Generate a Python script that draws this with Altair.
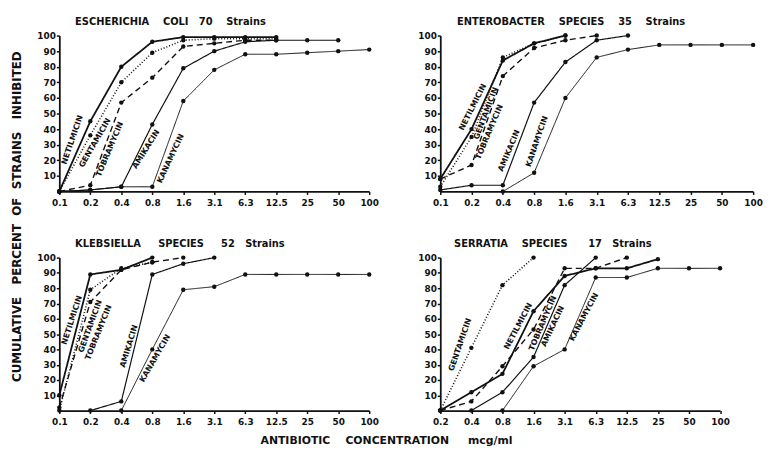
import json
import altair as alt
import pandas as pd

FONT = "DejaVu Sans"
INK = "#111111"
NB = "\u00a0"

DRUGS = ["NETILMICIN", "GENTAMICIN", "TOBRAMYCIN", "AMIKACIN", "KANAMYCIN"]
CONC_FULL = ["0.1", "0.2", "0.4", "0.8", "1.6", "3.1", "6.3", "12.5", "25", "50", "100"]
CONC_SERRATIA = ["0.2", "0.4", "0.8", "1.6", "3.1", "6.3", "12.5", "25", "50", "100"]

# Escherichia coli, 70 strains (cumulative % inhibited at each concentration)
ECOLI_NET = [0, 45, 80, 96, 99, 99, 99, 99, None, None, None]
ECOLI_GEN = [0, 36, 70, 89, 97, 98, 98, 98, None, None, None]
ECOLI_TOB = [0, 4, 57, 73, 93, 95, 97, 97, None, None, None]
ECOLI_AMI = [0, 1, 3, 43, 79, 90, 96, 97, 97, 97, None]
ECOLI_KAN = [0, 1, 3, 3, 58, 78, 88, 88, 89, 90, 91]

# Enterobacter species, 35 strains
ENTERO_NET = [8, 40, 84, 95, 100, None, None, None, None, None, None]
ENTERO_GEN = [3, 35, 86, 95, 100, None, None, None, None, None, None]
ENTERO_TOB = [8, 17, 74, 92, 97, 100, None, None, None, None, None]
ENTERO_AMI = [1, 4, 4, 57, 83, 97, 100, None, None, None, None]
ENTERO_KAN = [None, None, 0, 12, 60, 86, 91, 94, 94, 94, 94]

# Klebsiella species, 52 strains
KLEB_NET = [10, 89, 92, 100, None, None, None, None, None, None, None]
KLEB_GEN = [0, 79, 93, 97, None, None, None, None, None, None, None]
KLEB_TOB = [2, 71, 92, 97, 100, None, None, None, None, None, None]
KLEB_AMI = [None, 0, 6, 89, 96, 100, None, None, None, None, None]
KLEB_KAN = [None, None, 0, 40, 79, 81, 89, 89, 89, 89, 89]

# Serratia species, 17 strains (scale starts at 0.2)
SERR_NET = [0, 12, 24, 65, 88, 93, 93, 99, None, None]
SERR_GEN = [0, 41, 82, 100, None, None, None, None, None, None]
SERR_TOB = [0, 6, 29, 53, 93, 93, 100, None, None, None]
SERR_AMI = [None, 0, 12, 35, 82, 100, None, None, None, None]
SERR_KAN = [None, None, 0, 29, 40, 87, 87, 93, 93, 93]

# rotated drug labels: (text, x index, y value, rotation degrees counter-clockwise)
ECOLI_LABELS = [("NETILMICIN", 0.43, 33, 71), ("GENTAMICIN", 1.16, 31, 60),
                ("TOBRAMYCIN", 1.64, 27, 67), ("AMIKACIN", 2.81, 27, 58),
                ("KANAMYCIN", 3.6, 21, 65)]
ENTERO_LABELS = [("NETILMICIN", 1.05, 54, 63), ("GENTAMICIN", 1.47, 50, 69),
                 ("TOBRAMYCIN", 1.58, 38, 67), ("AMIKACIN", 2.21, 26, 67),
                 ("KANAMYCIN", 3.1, 32, 71)]
KLEB_LABELS = [("NETILMICIN", 0.42, 59, 72), ("GENTAMICIN", 1.01, 55, 70),
               ("TOBRAMYCIN", 1.28, 51, 68), ("AMIKACIN", 2.26, 42, 73),
               ("KANAMYCIN", 3.1, 34, 60)]
SERR_LABELS = [("GENTAMICIN", 0.65, 43, 71), ("NETILMICIN", 2.52, 55, 62),
               ("TOBRAMYCIN", 3.31, 57, 67), ("AMIKACIN", 3.63, 55, 65),
               ("KANAMYCIN", 4.63, 61, 62)]

DASHES = [[1, 0], [1, 2], [6, 4], [1, 0], [1, 0]]
WIDTHS = [1.8, 1.0, 1.7, 1.8, 1.8]


def words(parts, gaps):
    out = parts[0]
    for g, p in zip(gaps, parts[1:]):
        out += NB * g + p
    return out


def panel(title, conc, series, labels, width, height, dx, ytitle=None, xtitle=None):
    rows = []
    for drug, vals in zip(DRUGS, series):
        for i, v in enumerate(vals):
            if v is not None:
                rows.append({"idx": i, "value": v, "drug": drug})
    df = pd.DataFrame(rows)
    n = len(conc)
    label_expr = json.dumps(conc) + "[datum.value]"

    xaxis = dict(values=list(range(n)), tickCount=n + 2, labelExpr=label_expr, title=None,
                 tickSize=3, labelPadding=4, labelOverlap=False, labelFlush=False)
    if xtitle:
        xaxis.update(title=xtitle, titleX=-55, titleAlign="center", titlePadding=8,
                     titleFontSize=11)
    yaxis = dict(values=list(range(10, 101, 10)), tickCount=12, title=None, tickSize=3,
                 labelPadding=1, labelOverlap=False, labelFlush=False)
    if ytitle:
        yaxis.update(title=ytitle, titleY=183, titleAlign="center", titlePadding=14,
                     titleFontSize=12)

    x = alt.X("idx:Q", scale=alt.Scale(domain=[0, n - 1], nice=False), axis=alt.Axis(**xaxis))
    y = alt.Y("value:Q", scale=alt.Scale(domain=[0, 100], nice=False), axis=alt.Axis(**yaxis))

    base = alt.Chart(df)
    lines = base.mark_line(color=INK).encode(
        x=x, y=y, detail="drug:N",
        strokeDash=alt.StrokeDash("drug:N", scale=alt.Scale(domain=DRUGS, range=DASHES), legend=None),
        strokeWidth=alt.StrokeWidth("drug:N", scale=alt.Scale(domain=DRUGS, range=WIDTHS), legend=None),
    )
    points = base.mark_circle(color=INK, opacity=1, size=20).encode(x="idx:Q", y="value:Q")

    lab = pd.DataFrame([{"text": t, "idx": i, "value": v, "angle": 360 - a} for t, i, v, a in labels])
    text = alt.Chart(lab).mark_text(font=FONT, fontSize=8, fontWeight="bold", color=INK).encode(
        x="idx:Q", y="value:Q", text="text:N", angle=alt.Angle("angle:Q", scale=None)
    )
    return alt.layer(lines, points, text).properties(
        width=width, height=height,
        title=alt.TitleParams(title, anchor="start", frame="group", dx=dx, offset=5, font=FONT,
                              fontSize=10, fontWeight="bold", color=INK),
    )


p1 = panel(words(["ESCHERICHIA", "COLI", "70", "Strains"], [4, 3, 4]), CONC_FULL,
           [ECOLI_NET, ECOLI_GEN, ECOLI_TOB, ECOLI_AMI, ECOLI_KAN], ECOLI_LABELS, 314, 158, 16,
           ytitle=words(["CUMULATIVE", "PERCENT", "OF", "STRAINS", "INHIBITED"], [3, 2, 2, 3]))
p2 = panel(words(["ENTEROBACTER", "SPECIES", "35", "Strains"], [4, 4, 4]), CONC_FULL,
           [ENTERO_NET, ENTERO_GEN, ENTERO_TOB, ENTERO_AMI, ENTERO_KAN], ENTERO_LABELS, 317, 158, 17)
p3 = panel(words(["KLEBSIELLA", "SPECIES", "52", "Strains"], [5, 5, 3]), CONC_FULL,
           [KLEB_NET, KLEB_GEN, KLEB_TOB, KLEB_AMI, KLEB_KAN], KLEB_LABELS, 314, 155, 16)
p4 = panel(words(["SERRATIA", "SPECIES", "17", "Strains"], [4, 6, 3]), CONC_SERRATIA,
           [SERR_NET, SERR_GEN, SERR_TOB, SERR_AMI, SERR_KAN], SERR_LABELS, 283.5, 155, 14,
           xtitle=words(["ANTIBIOTIC", "CONCENTRATION", "mcg/ml"], [4, 5]))

chart = alt.concat(p1, p2, p3, p4, columns=2, spacing={"row": 67, "column": 72},
                   bounds="flush").properties(
    padding={"left": 2, "top": 6, "right": 0, "bottom": 0}, background="white"
).configure_view(strokeWidth=0).configure_axis(
    domainColor=INK, domainWidth=1.8, tickColor=INK, tickWidth=1.5,
    labelFont=FONT, labelFontSize=9, labelFontWeight="bold", labelColor=INK,
    titleFont=FONT, titleFontWeight="bold", titleColor=INK, grid=False,
)

chart.save("out.html", embed_options={"renderer": "svg", "actions": False})
